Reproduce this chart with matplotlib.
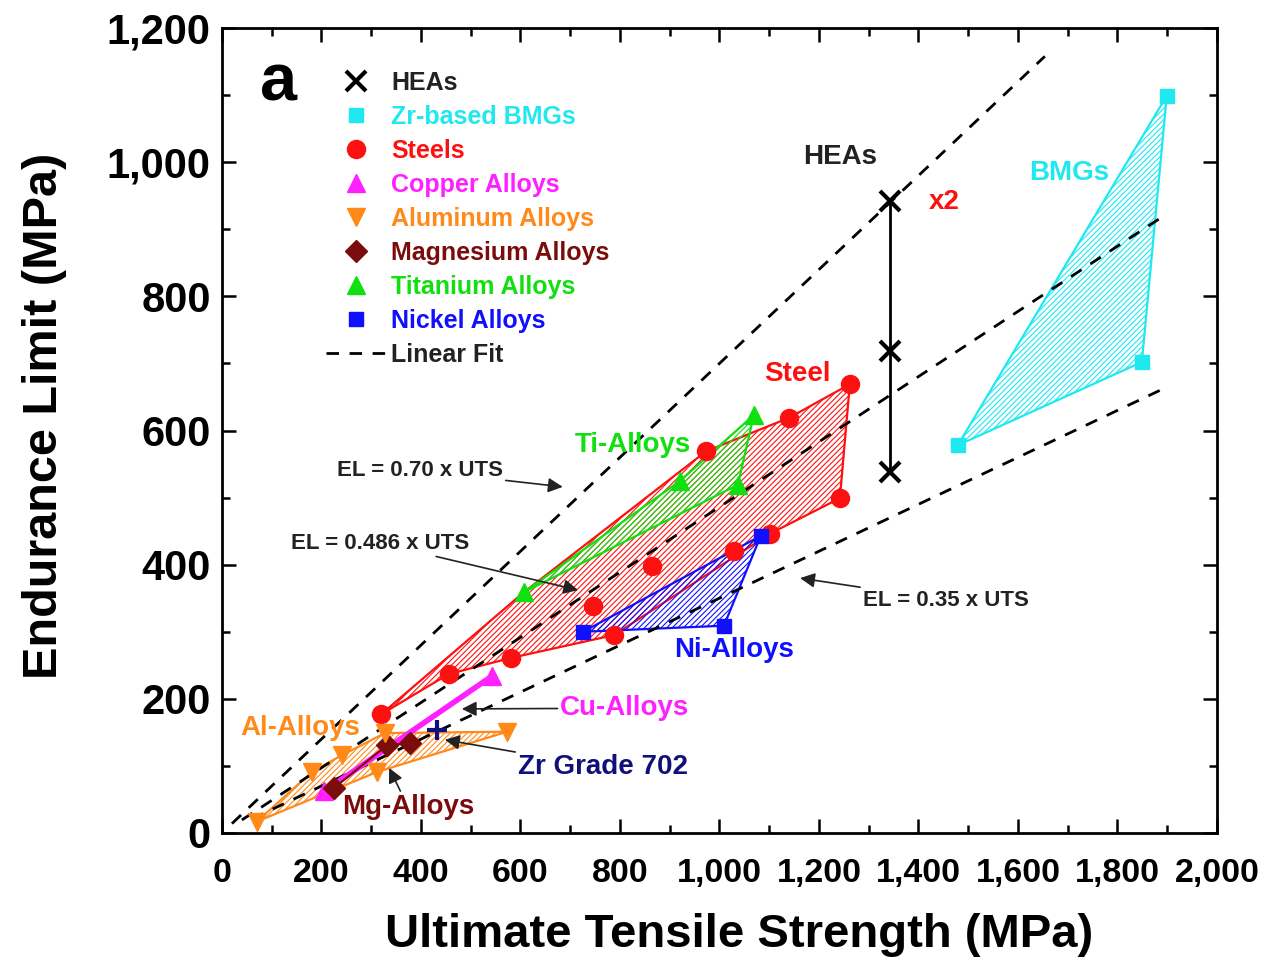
import matplotlib
matplotlib.use("Agg")
import matplotlib.pyplot as plt
from matplotlib.patches import Polygon
from matplotlib.lines import Line2D
from matplotlib.ticker import MultipleLocator, FuncFormatter
from matplotlib.font_manager import FontProperties

# data (UTS, EL) in MPa
steel_uts = [320, 456, 581, 746, 788, 864, 973, 1029, 1101, 1140, 1242, 1262]
steel_el = [177, 237, 261, 338, 295, 398, 569, 420, 446, 619, 499, 669]
steel_hull = [(320, 177), (607, 359), (973, 569), (1140, 619), (1262, 669),
              (1242, 499), (1101, 446), (788, 295), (581, 261), (456, 237)]

ti_uts = [607, 921, 1037, 1069]
ti_el = [359, 525, 519, 623]
ti_hull = [(607, 359), (921, 525), (1069, 623), (1037, 519)]

ni_uts = [726, 1009, 1083]
ni_el = [300, 309, 443]
ni_hull = [(726, 300), (1083, 443), (1009, 309)]

bmg_uts = [1479, 1849, 1899]
bmg_el = [578, 702, 1099]
bmg_hull = [(1479, 578), (1899, 1099), (1849, 702)]

hea_uts = [1343, 1343, 1343]
hea_el = [538, 719, 942]

cu_uts = [205, 543]
cu_el = [62, 234]

al_uts = [70, 181, 241, 312, 328, 573]
al_el = [17, 91, 116, 91, 149, 151]
al_hull = [(70, 17), (181, 91), (241, 116), (328, 149), (573, 151), (312, 91)]

mg_uts = [225, 332, 378]
mg_el = [67, 131, 134]

zr702_uts = [432]
zr702_el = [154]

fit_slopes = [0.70, 0.486, 0.35]
fit_ranges = [(20, 1654), (40, 1885), (60, 1899)]

RED = "#ff1010"
GREEN = "#10e010"
BLUE = "#1010ff"
CYAN = "#20e8f0"
MAGENTA = "#ff20ff"
ORANGE = "#ff8a1a"
MAROON = "#7a0c0c"
NAVY = "#10107a"
DARK = "#222222"

BOLD = dict(family=["Liberation Sans", "DejaVu Sans"], weight="bold")

plt.rcParams["hatch.linewidth"] = 0.8

fig = plt.figure(figsize=(12.64, 9.6), dpi=100)
ax = fig.add_axes([0.1756, 0.1323, 0.7872, 0.8385])


def hull(points, color):
    ax.add_patch(Polygon(points, closed=True, fill=False, edgecolor=color,
                         hatch="/" * 6, lw=1.6, zorder=2))


# linear fits
for k, (a, b) in zip(fit_slopes, fit_ranges):
    ax.plot([a, b], [k * a, k * b], color="black", lw=2.0,
            linestyle=(0, (4.5, 3.8)), zorder=3)

hull(steel_hull, RED)
hull(ti_hull, GREEN)
hull(ni_hull, BLUE)
hull(bmg_hull, CYAN)
hull(al_hull, ORANGE)

ax.plot(cu_uts, cu_el, color=MAGENTA, lw=4, marker="^", ms=13, zorder=4)
ax.plot(mg_uts, mg_el, color=MAROON, lw=1.5, marker="D", ms=11, zorder=5, ls="-")
ax.plot(steel_uts, steel_el, ls="none", marker="o", ms=13, color=RED, zorder=5)
ax.plot(ti_uts, ti_el, ls="none", marker="^", ms=13, color=GREEN, zorder=5)
ax.plot(ni_uts, ni_el, ls="none", marker="s", ms=10, color=BLUE, zorder=5)
ax.plot(bmg_uts, bmg_el, ls="none", marker="s", ms=10, color=CYAN, zorder=5)
ax.plot(al_uts, al_el, ls="none", marker="v", ms=13, color=ORANGE, zorder=5)
ax.plot(zr702_uts, zr702_el, ls="none", marker="+", ms=14, mew=3, color=NAVY, zorder=6)
ax.plot(hea_uts, hea_el, color="black", lw=2, marker="x", ms=15, mew=3, zorder=6)

# labels inside the plot
ax.text(113, 1118, "a", fontsize=48, ha="center", va="center", **BOLD)
ax.text(1242, 1008, "HEAs", fontsize=20, color=DARK, ha="center", va="center", **BOLD)
ax.text(1451, 941, "x2", fontsize=20, color=RED, ha="center", va="center", **BOLD)
ax.text(1702, 984, "BMGs", fontsize=20, color=CYAN, ha="center", va="center", **BOLD)
ax.text(1156, 684, "Steel", fontsize=20, color=RED, ha="center", va="center", **BOLD)
ax.text(826, 578, "Ti-Alloys", fontsize=20, color=GREEN, ha="center", va="center", **BOLD)
ax.text(1029, 273, "Ni-Alloys", fontsize=20, color=BLUE, ha="center", va="center", **BOLD)
ax.text(157, 157, "Al-Alloys", fontsize=20, color=ORANGE, ha="center", va="center", **BOLD)

arrow = dict(arrowstyle="-|>", color=DARK, lw=1.2, mutation_scale=22,
             shrinkA=0, shrinkB=0)
ax.annotate("EL = 0.70 x UTS", xy=(685, 516), xytext=(398, 540), fontsize=16,
            color=DARK, ha="center", va="center", arrowprops=arrow, **BOLD)
ax.annotate("EL = 0.486 x UTS", xy=(716, 362), xytext=(318, 432), fontsize=16,
            color=DARK, ha="center", va="center", arrowprops=arrow, **BOLD)
ax.annotate("EL = 0.35 x UTS", xy=(1162, 380), xytext=(1455, 347), fontsize=16,
            color=DARK, ha="center", va="center", arrowprops=arrow, **BOLD)
ax.annotate("Cu-Alloys", xy=(482, 185), xytext=(810, 186), fontsize=20,
            color=MAGENTA, ha="center", va="center", arrowprops=arrow, **BOLD)
ax.annotate("Zr Grade 702", xy=(448, 139), xytext=(766, 98), fontsize=20,
            color=NAVY, ha="center", va="center", arrowprops=arrow, **BOLD)
ax.annotate("Mg-Alloys", xy=(336, 97), xytext=(374, 39), fontsize=20,
            color=MAROON, ha="center", va="center", arrowprops=arrow, **BOLD)

# legend
handles = [
    Line2D([], [], ls="none", marker="x", ms=15, mew=3, color="black"),
    Line2D([], [], ls="none", marker="s", ms=10, color=CYAN),
    Line2D([], [], ls="none", marker="o", ms=13, color=RED),
    Line2D([], [], ls="none", marker="^", ms=13, color=MAGENTA),
    Line2D([], [], ls="none", marker="v", ms=13, color=ORANGE),
    Line2D([], [], ls="none", marker="D", ms=11, color=MAROON),
    Line2D([], [], ls="none", marker="^", ms=13, color=GREEN),
    Line2D([], [], ls="none", marker="s", ms=10, color=BLUE),
    Line2D([], [], color="black", lw=2.0, ls=(0, (4.5, 3.8))),
]
labels = ["HEAs", "Zr-based BMGs", "Steels", "Copper Alloys", "Aluminum Alloys",
          "Magnesium Alloys", "Titanium Alloys", "Nickel Alloys", "Linear Fit"]
colors = [DARK, CYAN, RED, MAGENTA, ORANGE, MAROON, GREEN, BLUE, DARK]
leg = ax.legend(handles, labels, loc="upper left", bbox_to_anchor=(0.082, 0.975),
                frameon=False, handlelength=2.4, handletextpad=0.2,
                labelspacing=0.40, prop=dict(family="Liberation Sans", weight="bold", size=18))
for t, c in zip(leg.get_texts(), colors):
    t.set_color(c)

# axes
ax.set_xlim(0, 2000)
ax.set_ylim(0, 1200)
ax.xaxis.set_major_locator(MultipleLocator(200))
ax.xaxis.set_minor_locator(MultipleLocator(100))
ax.yaxis.set_major_locator(MultipleLocator(200))
ax.yaxis.set_minor_locator(MultipleLocator(100))
comma = FuncFormatter(lambda v, p: f"{int(v):,}")
ax.xaxis.set_major_formatter(comma)
ax.yaxis.set_major_formatter(comma)
ax.tick_params(which="both", direction="in", top=True, right=True, width=1.8)
ax.tick_params(which="major", length=10)
ax.tick_params(which="minor", length=6)
ax.tick_params(axis="x", pad=18)
ax.tick_params(axis="y", pad=8)
for s in ax.spines.values():
    s.set_linewidth(2)
for t in ax.get_xticklabels():
    t.set_fontproperties(FontProperties(**BOLD, size=24.5))
for t in ax.get_yticklabels():
    t.set_fontproperties(FontProperties(**BOLD, size=30))

ax.set_xlabel("Ultimate Tensile Strength (MPa)", fontsize=34, **BOLD)
ax.set_ylabel("Endurance Limit (MPa)", fontsize=35, **BOLD)
ax.xaxis.set_label_coords(0.52, -0.127)
ax.yaxis.set_label_coords(-0.178, 0.518)
ax.xaxis.label.set_va("center")
ax.yaxis.label.set_va("center")

fig.savefig("out.png", dpi=100)
